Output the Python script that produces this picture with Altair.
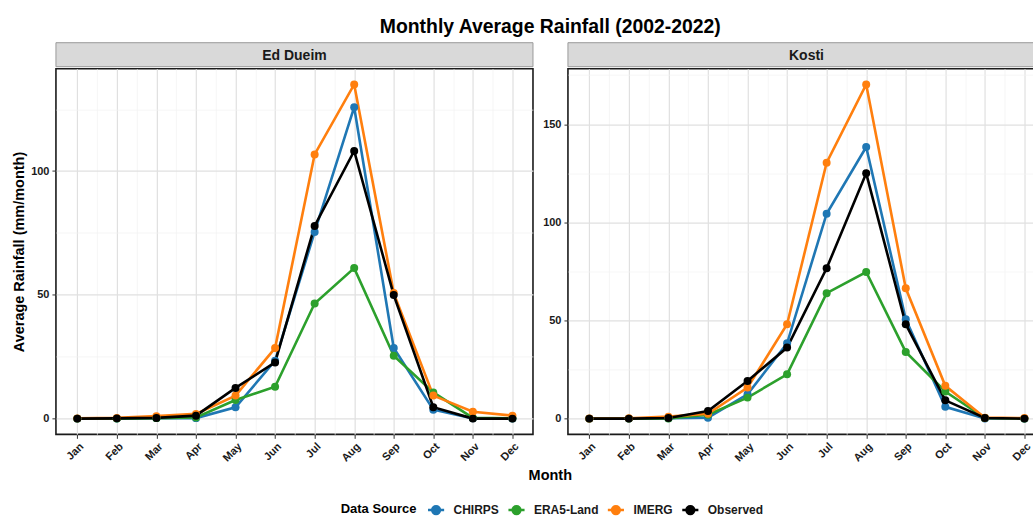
import altair as alt
import pandas as pd

# Month labels and series (mm/month), one list per station and source
months = ["Jan", "Feb", "Mar", "Apr", "May", "Jun",
          "Jul", "Aug", "Sep", "Oct", "Nov", "Dec"]
stations = ["Ed Dueim", "Kosti"]
sources = ["CHIRPS", "ERA5-Land", "IMERG", "Observed"]
source_colors = ["#1f77b4", "#2ca02c", "#ff7f0e", "#000000"]

ed_chirps = [0.0, 0.0, 0.3, 0.2, 4.6, 23.4, 75.4, 125.8, 28.5, 3.6, 0.1, 0.0]
ed_era5 = [0.0, 0.0, 0.2, 0.5, 7.5, 12.9, 46.5, 60.8, 25.4, 10.6, 0.3, 0.1]
ed_imerg = [0.1, 0.3, 1.0, 1.9, 9.3, 28.5, 106.7, 135.0, 50.7, 9.3, 2.8, 1.2]
ed_obs = [0.0, 0.1, 0.3, 1.2, 12.4, 22.7, 77.8, 108.1, 49.9, 4.6, 0.0, 0.0]

ko_chirps = [0.0, 0.0, 0.2, 0.5, 12.4, 38.4, 104.4, 138.4, 50.6, 6.0, 0.1, 0.0]
ko_era5 = [0.0, 0.0, 0.1, 2.0, 10.7, 22.6, 63.9, 74.7, 34.0, 13.8, 0.3, 0.0]
ko_imerg = [0.1, 0.2, 1.0, 2.5, 15.8, 48.1, 130.4, 170.3, 66.4, 16.7, 0.5, 0.3]
ko_obs = [0.0, 0.0, 0.3, 3.9, 19.2, 36.2, 76.6, 125.0, 48.1, 9.3, 0.3, 0.0]

series = {
    "Ed Dueim": [ed_chirps, ed_era5, ed_imerg, ed_obs],
    "Kosti": [ko_chirps, ko_era5, ko_imerg, ko_obs],
}

rows = []
for st in stations:
    for src, vals in zip(sources, series[st]):
        for i, v in enumerate(vals):
            rows.append({"station": st, "source": src, "m": i + 1,
                         "month": months[i], "rain": v})
df = pd.DataFrame(rows)

FONT = "Liberation Sans"
PW, PH = 477.5, 366
month_js = "[" + ",".join(f"'{m}'" for m in months) + "]"

color = alt.Color(
    "source:N",
    scale=alt.Scale(domain=sources, range=source_colors),
    legend=alt.Legend(
        title="Data Source", orient="none", direction="horizontal",
        titleOrient="left", legendX=285, legendY=458,
        symbolType="M-1,0L1,0M-0.48,0A0.48,0.48,0,1,0,0.48,0A0.48,0.48,0,1,0,-0.48,0Z",
        symbolSize=260, symbolStrokeWidth=2.5,
        columnPadding=3.5, labelOffset=8, titlePadding=10,
    ),
)


def panel(station, first):
    d = df[df.station == station]
    hi = d.rain.max()
    pad = hi * 0.047
    step = 25
    yvals = [v * step for v in range(0, int(hi // step) + 2)]

    x = alt.X(
        "m:Q",
        scale=alt.Scale(domain=[0.46, 12.52], nice=False, zero=False),
        axis=alt.Axis(
            values=[v / 2 for v in range(2, 25)],
            labelExpr=f"datum.value % 1 == 0 ? {month_js}[datum.value - 1] : ''",
            gridColor=alt.condition("datum.value % 1 == 0", alt.value("#e0e0e0"), alt.value("#f2f2f2")),
            gridWidth=alt.condition("datum.value % 1 == 0", alt.value(1.2), alt.value(0.7)),
            tickOpacity=alt.condition("datum.value % 1 == 0", alt.value(1), alt.value(0)),
            labelAngle=-45, labelAlign="right", labelBaseline="top",
            labelPadding=2, title=None,
        ),
    )
    y = alt.Y(
        "rain:Q",
        scale=alt.Scale(domain=[-pad, hi + pad], nice=False, zero=False),
        axis=alt.Axis(
            values=yvals,
            labelExpr="datum.value % 50 == 0 ? datum.label : ''",
            gridColor=alt.condition("datum.value % 50 == 0", alt.value("#e0e0e0"), alt.value("#f2f2f2")),
            gridWidth=alt.condition("datum.value % 50 == 0", alt.value(1.2), alt.value(0.7)),
            tickOpacity=alt.condition("datum.value % 50 == 0", alt.value(1), alt.value(0)),
            labelPadding=3,
            title="Average Rainfall (mm/month)" if first else None,
            titlePadding=4,
        ),
    )
    base = alt.Chart(d)
    lines = base.mark_line(strokeWidth=2.6).encode(x=x, y=y, color=color,
                                                     order="m:Q")
    pts = base.mark_circle(size=64, opacity=1).encode(x=x, y=y, color=color)
    plot = alt.layer(lines, pts).properties(width=PW, height=PH)

    strip_df = pd.DataFrame({"label": [station]})
    sbase = alt.Chart(strip_df)
    rect = sbase.mark_rect(fill="#d9d9d9", stroke="#9a9a9a", strokeWidth=1).encode(
        x=alt.value(0), x2=alt.value(PW), y=alt.value(0), y2=alt.value(24))
    txt = sbase.mark_text(font=FONT, fontSize=14, fontWeight="bold",
                          color="#1a1a1a").encode(
        text="label:N", x=alt.value(PW / 2), y=alt.value(13))
    strip = alt.layer(rect, txt).properties(
        width=PW, height=24, view=alt.ViewBackground(strokeOpacity=0))
    return alt.vconcat(strip, plot, spacing=0)


row = alt.hconcat(
    panel("Ed Dueim", True), panel("Kosti", False), spacing=6.5
).properties(
    title=alt.TitleParams(
        "Month", orient="bottom", font=FONT, fontSize=14.5, fontWeight="bold",
        color="#000000", anchor="middle", offset=5.5, dx=22),
)

chart = alt.vconcat(row).properties(
    title=alt.TitleParams(
        "Monthly Average Rainfall (2002-2022)", font=FONT, fontSize=19.4,
        fontWeight="bold", color="#000000", anchor="middle", offset=4.5, dx=22),
    padding={"left": 10, "top": 16.5, "right": -13, "bottom": 0},
).configure_view(
    stroke="#1a1a1a", strokeWidth=1.6
).configure_axis(
    labelFont=FONT, labelFontSize=11, labelFontWeight="bold", labelColor="#1a1a1a",
    titleFont=FONT, titleFontSize=14.5, titleFontWeight="bold", titleColor="#000000",
    domain=False, tickColor="#333333", tickSize=4, tickWidth=1,
).configure_legend(
    labelFont=FONT, labelFontSize=12, labelFontWeight="bold", labelColor="#1a1a1a",
    titleFont=FONT, titleFontSize=13, titleFontWeight="bold", titleColor="#000000",
)

chart.save("out.html", embed_options={"renderer": "svg", "actions": False})
